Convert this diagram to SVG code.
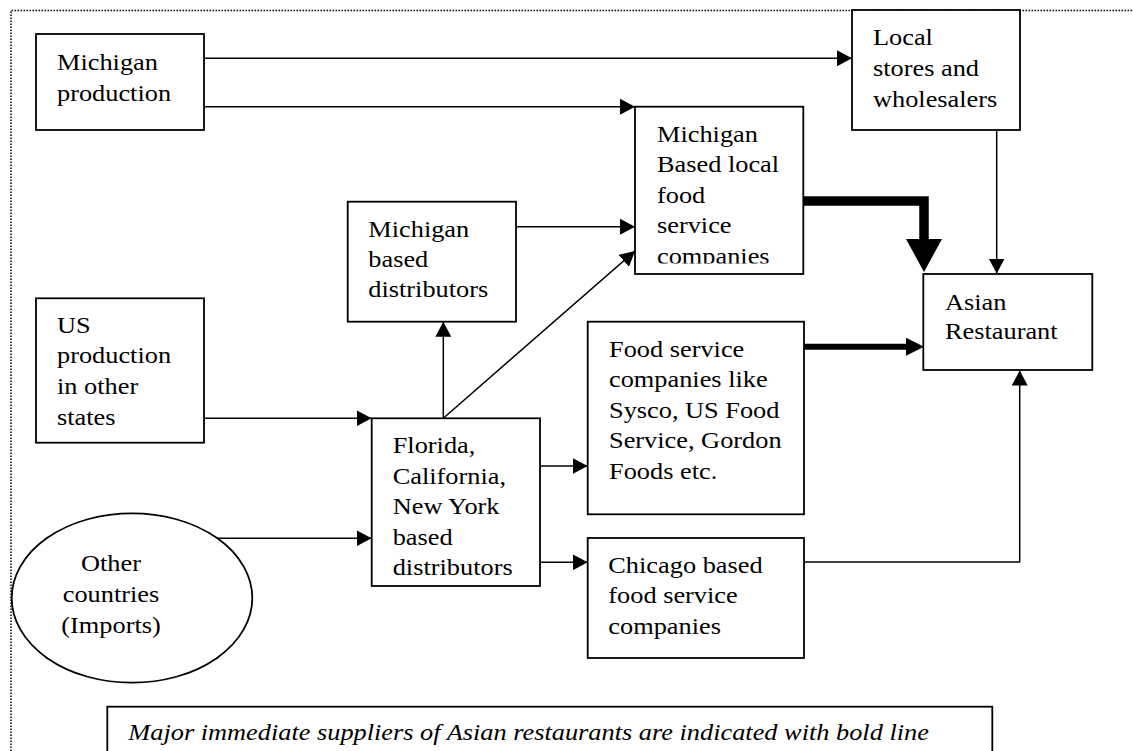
<svg xmlns="http://www.w3.org/2000/svg" width="1133" height="751" viewBox="0 0 1133 751">
<style>
.box{fill:#fff;stroke:#000;stroke-width:1.8}
.t{font-family:"Liberation Serif","Times New Roman",serif;font-size:23px;fill:#000}
.it{font-style:italic}
.ln{fill:none;stroke:#000;stroke-width:1.5}
.frame{fill:none;stroke:#000;stroke-width:1.5;stroke-dasharray:1.5 1.5}
</style>
<defs>
<marker id="ah" markerWidth="16" markerHeight="16" refX="15" refY="8" orient="auto" markerUnits="userSpaceOnUse"><path d="M0,0 L15,8 L0,16 Z" fill="#000"/></marker>
<marker id="ahm" markerWidth="18" markerHeight="18" refX="0" refY="9" orient="auto" markerUnits="userSpaceOnUse"><path d="M0,0 L18,9 L0,18 Z" fill="#000"/></marker>
<marker id="ahl" markerWidth="34" markerHeight="36" refX="0" refY="18" orient="auto" markerUnits="userSpaceOnUse"><path d="M0,0 L33,18 L0,36 Z" fill="#000"/></marker>
<clipPath id="clipMBL"><rect x="636" y="108" width="166" height="155.5"/></clipPath>
</defs>
<rect width="1133" height="751" fill="#fff"/>
<g id="frame">
<path class="frame" d="M11,751 V10.5 H1133"/>
</g>
<g id="connectors">
<path class="ln" d="M204,58.3 H852" marker-end="url(#ah)"/>
<path class="ln" d="M204,106.7 H635" marker-end="url(#ah)"/>
<path class="ln" d="M516,226.7 H635" marker-end="url(#ah)"/>
<path class="ln" d="M443.3,418.3 V321.7" marker-end="url(#ah)"/>
<path class="ln" d="M443.3,418.3 L635,251" marker-end="url(#ah)"/>
<path class="ln" d="M204,418.3 H371.5" marker-end="url(#ah)"/>
<path class="ln" d="M203.3,538.3 H371.5" marker-end="url(#ah)"/>
<path class="ln" d="M540,466 H587.7" marker-end="url(#ah)"/>
<path class="ln" d="M540,562.3 H587.7" marker-end="url(#ah)"/>
<path class="ln" d="M996.7,130 V273.5" marker-end="url(#ah)"/>
<path class="ln" d="M804,562 H1019.7 V370.5" marker-end="url(#ah)"/>
<path d="M804,201 H924 V239" fill="none" stroke="#000" stroke-width="9.5" marker-end="url(#ahl)"/>
<path d="M804,346.7 H906" fill="none" stroke="#000" stroke-width="6" marker-end="url(#ahm)"/>
</g>
<g id="michigan-production">
<rect class="box" x="36" y="34" width="168" height="96"/>
<text class="t" transform="translate(57,70) scale(1.145,1)"><tspan x="0" y="0">Michigan</tspan><tspan x="0" y="30.8">production</tspan></text>
</g>
<g id="local-stores">
<rect class="box" x="852" y="10" width="168" height="120"/>
<text class="t" transform="translate(873,45) scale(1.145,1)"><tspan x="0" y="0">Local</tspan><tspan x="0" y="31">stores and</tspan><tspan x="0" y="62">wholesalers</tspan></text>
</g>
<g id="michigan-based-local">
<rect class="box" x="635" y="106.7" width="168.3" height="167.3"/>
<g clip-path="url(#clipMBL)">
<text class="t" transform="translate(657,142) scale(1.145,1)"><tspan x="0" y="0">Michigan</tspan><tspan x="0" y="30.5">Based local</tspan><tspan x="0" y="61">food</tspan><tspan x="0" y="91.5">service</tspan><tspan x="0" y="122">companies</tspan></text>
</g>
</g>
<g id="michigan-distributors">
<rect class="box" x="347.7" y="201.7" width="168.3" height="120"/>
<text class="t" transform="translate(368.3,236.7) scale(1.145,1)"><tspan x="0" y="0">Michigan</tspan><tspan x="0" y="30.3">based</tspan><tspan x="0" y="60.6">distributors</tspan></text>
</g>
<g id="us-production">
<rect class="box" x="36" y="298.3" width="168" height="144.4"/>
<text class="t" transform="translate(57,332.7) scale(1.145,1)"><tspan x="0" y="0">US</tspan><tspan x="0" y="30.7">production</tspan><tspan x="0" y="61.4">in other</tspan><tspan x="0" y="92.1">states</tspan></text>
</g>
<g id="florida-distributors">
<rect class="box" x="371.7" y="418.3" width="168.3" height="167.7"/>
<text class="t" transform="translate(392.7,453.3) scale(1.145,1)"><tspan x="0" y="0">Florida,</tspan><tspan x="0" y="30.5">California,</tspan><tspan x="0" y="61">New York</tspan><tspan x="0" y="91.5">based</tspan><tspan x="0" y="122">distributors</tspan></text>
</g>
<g id="food-service">
<rect class="box" x="587.7" y="321.7" width="216.3" height="192.6"/>
<text class="t" transform="translate(609,356.7) scale(1.145,1)"><tspan x="0" y="0">Food service</tspan><tspan x="0" y="30.6">companies like</tspan><tspan x="0" y="61.2">Sysco, US Food</tspan><tspan x="0" y="91.8">Service, Gordon</tspan><tspan x="0" y="122.4">Foods etc.</tspan></text>
</g>
<g id="chicago">
<rect class="box" x="587.7" y="538" width="216.3" height="120"/>
<text class="t" transform="translate(608.3,572.7) scale(1.145,1)"><tspan x="0" y="0">Chicago based</tspan><tspan x="0" y="30.5">food service</tspan><tspan x="0" y="61">companies</tspan></text>
</g>
<g id="asian-restaurant">
<rect class="box" x="923.3" y="274" width="169" height="96"/>
<text class="t" transform="translate(945,310) scale(1.145,1)"><tspan x="0" y="0">Asian</tspan><tspan x="0" y="29.5">Restaurant</tspan></text>
</g>
<g id="other-countries">
<ellipse class="box" cx="132" cy="598" rx="120.3" ry="84.7"/>
<text class="t" text-anchor="middle" transform="translate(111,570.7) scale(1.145,1)"><tspan x="0" y="0">Other</tspan><tspan x="0" y="31">countries</tspan><tspan x="0" y="62.3">(Imports)</tspan></text>
</g>
<g id="legend">
<rect class="box" x="107.3" y="706.7" width="885" height="70"/>
<text class="t it" transform="translate(128.3,740) scale(1.145,1)">Major immediate suppliers of Asian restaurants are indicated with bold line</text>
</g>
</svg>
